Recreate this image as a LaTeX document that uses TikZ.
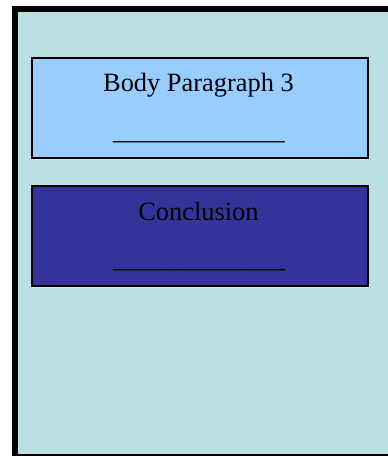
\documentclass[tikz,border=0pt]{standalone}
\usepackage{fontspec}
\setmainfont{Liberation Serif}
\definecolor{pagebg}{HTML}{BBE0E3}
\definecolor{lightbox}{HTML}{99CCFF}
\definecolor{darkbox}{HTML}{333399}
\definecolor{shade}{HTML}{707878}
\begin{document}
\begin{tikzpicture}[x=0.75pt,y=-0.75pt,
  panel/.style={line width=1.5pt,draw=black},
  label/.style={inner sep=0pt,anchor=base,font=\fontsize{19.8pt}{24pt}\selectfont,text=black}]
\useasboundingbox (0,0) rectangle (388,456);
% outer frame
\fill[black] (12,6) rectangle (388,456);
\fill[pagebg] (18,12) rectangle (388,454);
% soft shadows under the boxes
\fill[shade] (32,157) rectangle (368,159.5);
\fill[shade] (32,285) rectangle (368,287.5);
% boxes
\node[panel,fill=lightbox,minimum width=252pt,minimum height=75pt,inner sep=0pt,anchor=north west] (body) at (31,57) {};
\node[panel,fill=darkbox,minimum width=252pt,minimum height=75pt,inner sep=0pt,anchor=north west] (concl) at (31,185) {};
% texts
\node[label] (bodytitle) at (198.5,92) {Body Paragraph 3};
\node[label] (bodyline) at (199,140) {\_\_\_\_\_\_\_\_\_\_\_\_\_};
\node[label] (conctitle) at (198.5,220.5) {Conclusion};
\node[label] (concline) at (199,267.4) {\_\_\_\_\_\_\_\_\_\_\_\_\_};
\end{tikzpicture}
\end{document}
